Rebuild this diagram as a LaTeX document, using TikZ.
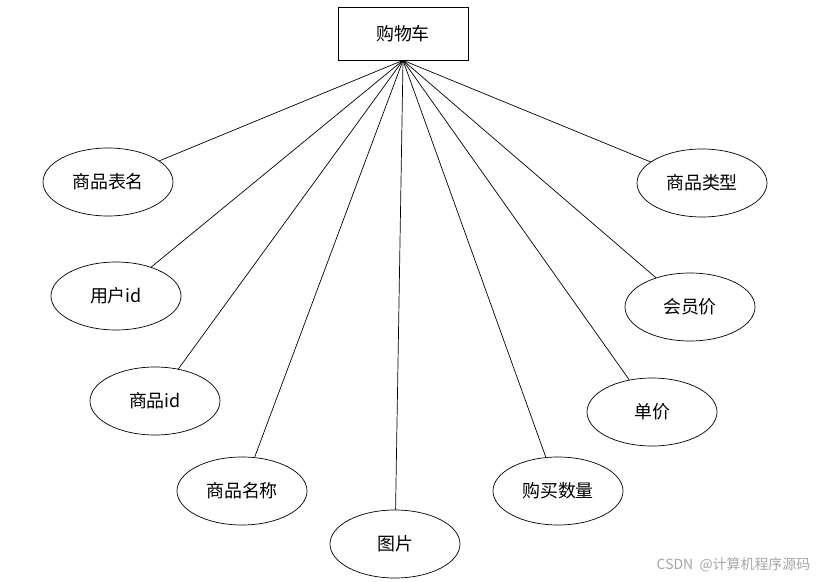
\documentclass[tikz,border=0pt]{standalone}
\usepackage{fontspec}
\setmainfont{Noto Sans CJK SC}
\usetikzlibrary{shapes.geometric}
\begin{document}
\begin{tikzpicture}[x=1bp, y=-1bp, line width=0.7bp,
  entity/.style={draw, rectangle, minimum width=130bp, minimum height=53bp, inner sep=0pt, font=\fontsize{18}{20}\selectfont},
  attr/.style={draw, ellipse, minimum width=130bp, minimum height=68bp, inner sep=0pt, font=\fontsize{18}{20}\selectfont}]
\useasboundingbox (0,0) rectangle (825,582);
\node[entity] (cart) at (403, 33.5) {购物车};

\node[attr] (tablename) at (108, 182) {商品表名};
\node[attr] (userid) at (116, 296) {用户id};
\node[attr] (goodsid) at (155, 401) {商品id};
\node[attr] (goodsname) at (242, 491) {商品名称};
\node[attr] (picture) at (395, 544) {图片};
\node[attr] (buynum) at (558, 491) {购买数量};
\node[attr] (price) at (652, 412) {单价};
\node[attr] (vipprice) at (690, 307) {会员价};
\node[attr] (goodstype) at (702, 183) {商品类型};

\foreach \a in {tablename, userid, goodsid, goodsname, picture, buynum, price, vipprice, goodstype}
  \draw (cart.south) -- (\a);

% watermark
\node[text=black!35, font=\fontsize{14}{15}\selectfont, anchor=east] (mark) at (814, 565) {CSDN\ \ @计算机程序源码};
\end{tikzpicture}
\end{document}
